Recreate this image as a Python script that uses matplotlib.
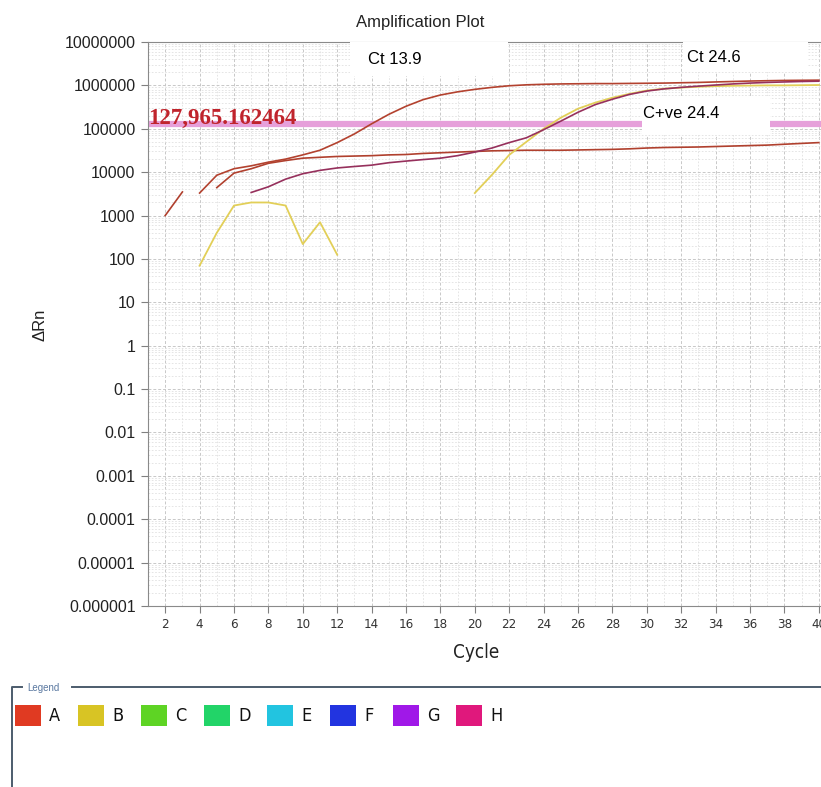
import numpy as np
import matplotlib
matplotlib.use("Agg")
import matplotlib.pyplot as plt
from matplotlib.patches import Rectangle
from matplotlib.ticker import FixedLocator, NullFormatter

# Data (NaN = point not drawn)
nan = np.nan
cycles = list(range(1, 41))

well_a_rep1 = [nan, nan, nan, 3300, 8500, 12000, 14000, 17000, 20000, 25000,
               32000, 48000, 76000, 130000, 215000, 330000, 470000, 600000, 710000, 810000,
               900000, 980000, 1030000, 1060000, 1080000, 1090000, 1100000, 1100000, 1110000, 1120000,
               1130000, 1150000, 1170000, 1200000, 1230000, 1260000, 1280000, 1300000, 1310000, 1320000]

well_a_rep2 = [nan, 1000, 3500, nan, 4400, 9500, 12000, 16000, 18500, 21000,
               22000, 23000, 23500, 24000, 25000, 25500, 27000, 28000, 29000, 30000,
               31000, 31500, 32000, 32000, 32000, 32500, 33000, 33500, 34500, 36000,
               37000, 37500, 38000, 39000, 40000, 41000, 42000, 44000, 46000, 48000]

well_b = [nan, nan, nan, 70, 400, 1700, 2000, 2000, 1700, 220,
          700, 125, nan, nan, nan, nan, nan, nan, nan, 3300,
          8700, 25000, 50000, 100000, 180000, 290000, 400000, 520000, 640000, 760000,
          840000, 890000, 930000, 960000, 980000, 990000, 1000000, 1000000, 1010000, 1020000]

well_g = [nan, nan, nan, nan, nan, nan, 3400, 4600, 6900, 9200,
          11000, 12500, 13500, 14500, 16500, 18000, 19500, 21000, 24000, 29000,
          36000, 48000, 62000, 95000, 150000, 240000, 360000, 480000, 620000, 740000,
          830000, 900000, 960000, 1020000, 1080000, 1130000, 1170000, 1200000, 1230000, 1250000]

threshold = 127965.162464

y_ticks = [1e-6, 1e-5, 1e-4, 1e-3, 1e-2, 1e-1, 1, 10, 100, 1000, 1e4, 1e5, 1e6, 1e7]
y_labels = ["0.000001", "0.00001", "0.0001", "0.001", "0.01", "0.1", "1", "10",
            "100", "1000", "10000", "100000", "1000000", "10000000"]
x_ticks = list(range(2, 41, 2))

legend_names = ["A", "B", "C", "D", "E", "F", "G", "H"]
legend_colors = ["#e03a22", "#d8c424", "#5ed424", "#22d468", "#22c4e0", "#2234e0", "#a018e8", "#e0187c"]

narrow = ["Liberation Sans Narrow", "DejaVu Sans"]
sans = ["Liberation Sans", "DejaVu Sans"]

W, H = 821, 787
fig = plt.figure(figsize=(W / 100, H / 100), dpi=100)

# main axes (runs a bit past the right edge, as in the cropped original)
ax = fig.add_axes([148 / W, 1 - 606 / H, (836 - 148) / W, 564 / H])
ax.set_yscale("log")
ax.set_xlim(1, 41)
ax.set_ylim(1e-6, 1e7)

# grid
ax.yaxis.set_minor_locator(matplotlib.ticker.LogLocator(base=10, subs=np.arange(2, 10), numticks=100))
ax.yaxis.set_minor_formatter(NullFormatter())
ax.xaxis.set_minor_locator(FixedLocator(cycles))
ax.grid(True, which="major", color="#c8c8c8", linestyle=(0, (3, 2)), linewidth=0.7)
ax.grid(True, which="minor", color="#e0e0e0", linestyle=(0, (2, 2)), linewidth=0.6)
ax.set_axisbelow(True)

ax.set_yticks(y_ticks)
ax.set_yticklabels(y_labels, fontfamily=sans, fontsize=11.5, color="#222222")
ax.set_xticks(x_ticks)
ax.set_xticklabels([str(t) for t in x_ticks], fontfamily=narrow, fontstretch="condensed",
                   fontsize=9.5, color="#333333")
ax.tick_params(axis="both", which="major", length=5, width=0.8, color="#808080", pad=4)
ax.tick_params(axis="both", which="minor", length=0)

for side in ["left", "bottom", "top"]:
    ax.spines[side].set_color("#8a8a8a")
ax.spines["right"].set_visible(False)

# threshold
ax.axhline(threshold, color="#e6a0da", linewidth=4.5, zorder=2)
ax.text(1.02, threshold * 1.03, f"{threshold:,.6f}", fontfamily=["Liberation Serif", "DejaVu Serif"],
        fontweight="bold", fontsize=16.5, color="#c0242c", va="baseline", ha="left", zorder=6)

# curves
ax.plot(cycles, well_a_rep2, color="#b0402e", linewidth=1.2, zorder=4)
ax.plot(cycles, well_a_rep1, color="#b3422f", linewidth=1.2, zorder=4)
ax.plot(cycles, well_b, color="#e2cf58", linewidth=1.3, zorder=4)
ax.plot(cycles, well_g, color="#96305c", linewidth=1.2, zorder=4)

# Ct label boxes
boxes = [((12.76, 1.65e6), 21.94 - 12.76, 1e7 - 1.65e6),
         ((32.1, 2.0e6), 39.4 - 32.1, 1e7 - 2.0e6),
         ((29.73, 7.2e4), 37.17 - 29.73, 5.6e5 - 7.2e4)]
for xy, w, h in boxes:
    ax.add_patch(Rectangle(xy, w, h, facecolor="white", edgecolor="none", zorder=3))
ax.text(13.8, 3.85e6, "Ct 13.9", fontfamily=sans, fontsize=12, va="center", ha="left", zorder=5)
ax.text(32.35, 4.3e6, "Ct 24.6", fontfamily=sans, fontsize=12, va="center", ha="left", zorder=5)
ax.text(29.8, 2.3e5, "C+ve 24.4", fontfamily=sans, fontsize=12, va="center", ha="left", zorder=5)

# titles and axis labels
fig.text(420 / W, 1 - 22 / H, "Amplification Plot", fontfamily=sans, fontsize=12,
         ha="center", va="center", color="#222222")
fig.text(40 / W, 1 - 325 / H, "\u0394Rn", fontfamily=sans, fontsize=12, rotation=90,
         ha="center", va="center", color="#222222")
fig.text(476 / W, 1 - 653 / H, "Cycle", fontfamily=narrow, fontstretch="condensed", fontsize=13.5,
         ha="center", va="center", color="#222222")

# legend panel drawn in pixel space
lg = fig.add_axes([0, 0, 1, 1], zorder=-1)
lg.set_xlim(0, W)
lg.set_ylim(H, 0)
lg.axis("off")
lg.plot([12, 12, 22], [H, 687, 687], color="#4c5c6c", linewidth=1.4)
lg.plot([72, W], [687, 687], color="#4c5c6c", linewidth=1.4)
lg.text(27, 688, "Legend", fontfamily=sans, fontsize=7, color="#5a78a0", va="center", ha="left")
for i, (name, col) in enumerate(zip(legend_names, legend_colors)):
    x0 = 15 + i * 63
    lg.add_patch(Rectangle((x0, 705), 26, 21, facecolor=col, edgecolor="none"))
    lg.text(x0 + 34, 716, name, fontfamily=narrow, fontstretch="condensed", fontsize=13,
            color="#111111", va="center", ha="left")

fig.savefig("out.png", dpi=100)
